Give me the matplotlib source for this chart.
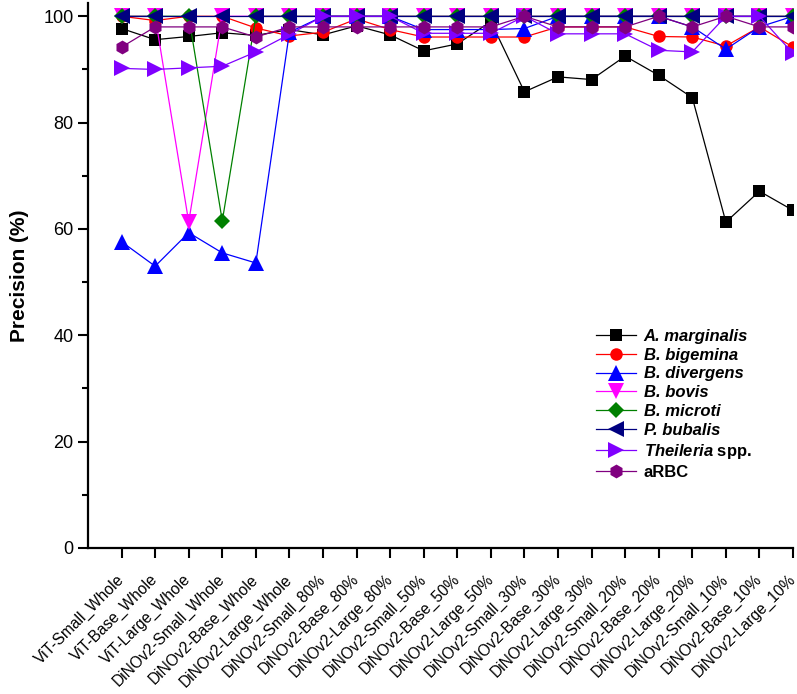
#!/usr/bin/env python3

import numpy as np
import matplotlib
matplotlib.use("Agg")
import matplotlib.pyplot as plt
from matplotlib.ticker import MultipleLocator

plt.rcParams['font.family'] = ['Liberation Sans', 'DejaVu Sans']
plt.rcParams['mathtext.fontset'] = 'custom'
plt.rcParams['mathtext.rm'] = 'Liberation Sans'
plt.rcParams['mathtext.it'] = 'Liberation Sans:italic'
plt.rcParams['mathtext.bf'] = 'Liberation Sans:bold'
plt.rcParams['mathtext.bfit'] = 'Liberation Sans:italic:bold'

models = ["ViT-Small_Whole", "ViT-Base_Whole", "ViT-Large_Whole",
          "DiNOv2-Small_Whole", "DiNOv2-Base_Whole", "DiNOv2-Large_Whole",
          "DiNOv2-Small_80%", "DiNOv2-Base_80%", "DiNOv2-Large_80%",
          "DiNOv2-Small_50%", "DiNOv2-Base_50%", "DiNOv2-Large_50%",
          "DiNOv2-Small_30%", "DiNOv2-Base_30%", "DiNOv2-Large_30%",
          "DiNOv2-Small_20%", "DiNOv2-Base_20%", "DiNOv2-Large_20%",
          "DiNOv2-Small_10%", "DiNOv2-Base_10%", "DiNOv2-Large_10%"]

a_marginalis = [97.7, 95.6, 96.2, 96.9, 96.4, 97.5, 96.5, 98.2, 96.5, 93.5, 94.8,
                99.0, 85.8, 88.6, 88.1, 92.5, 88.9, 84.7, 61.3, 67.1, 63.5]
b_bigemina = [100, 99.2, 100, 100, 97.8, 96.3, 97.0, 99.5, 97.5, 96.1, 96.1,
              96.1, 96.1, 98.0, 98.0, 98.0, 96.2, 96.1, 94.4, 98.0, 94.2]
b_divergens = [57.6, 53.0, 59.3, 55.5, 53.6, 97.0, 100, 100, 100, 97.5, 97.5,
               97.5, 97.7, 100, 100, 100, 100, 98.0, 93.8, 98.0, 100]
b_bovis = [100, 100, 61.3, 100, 100, 100, 100, 100, 100, 100, 100,
           100, 100, 100, 100, 100, 100, 100, 100, 100, 100]
b_microti = [100, 100, 100, 61.5, 100, 100, 100, 100, 100, 100, 100,
             100, 100, 100, 100, 100, 100, 100, 100, 100, 100]
p_bubalis = [100, 100, 100, 100, 100, 100, 100, 100, 100, 100, 100,
             100, 100, 100, 100, 100, 100, 100, 100, 100, 100]
theileria = [90.2, 90.0, 90.3, 90.6, 93.3, 96.6, 100, 100, 100, 96.8, 96.8,
             96.8, 100, 96.7, 96.7, 96.7, 93.6, 93.3, 100, 100, 93.0]
arbc = [94.2, 98.0, 98.0, 98.0, 96.1, 98.0, 98.0, 98.0, 98.0, 98.0, 98.0,
        98.0, 100, 98.0, 98.0, 98.0, 100, 98.0, 100, 98.0, 98.0]

series = [
    (a_marginalis, "A. marginalis", "black", "s", 8.5),
    (b_bigemina, "B. bigemina", "#ff0000", "o", 9),
    (b_divergens, "B. divergens", "#0000ff", "^", 11),
    (b_bovis, "B. bovis", "#ff00ff", "v", 11),
    (b_microti, "B. microti", "#008000", "D", 8),
    (p_bubalis, "P. bubalis", "#000080", "<", 11),
    (theileria, r"$\mathbfit{Theileria}$ spp.", "#8000ff", ">", 11),
    (arbc, "aRBC", "#800080", "h", 10),
]

fig = plt.figure(figsize=(7.97, 6.94), dpi=100)
ax = fig.add_axes([0.1104, 0.2104, 0.8846, 0.7853])

x = np.arange(len(models))
for vals, label, color, marker, ms in series:
    ax.plot(x, vals, color=color, lw=0.9, marker=marker, ms=ms,
            markeredgewidth=0, label=label)

ax.set_xlim(-1, 20)
ax.set_ylim(0, 102.5)
ax.spines['top'].set_visible(False)
ax.spines['right'].set_visible(False)
for s in ['left', 'bottom']:
    ax.spines[s].set_linewidth(1.6)

ax.set_xticks(x)
ax.set_xticklabels(models, rotation=45, ha='right', va='center',
                   rotation_mode='anchor', fontsize=11.2)
ax.yaxis.set_major_locator(MultipleLocator(20))
ax.yaxis.set_minor_locator(MultipleLocator(10))
ax.tick_params(axis='both', which='major', direction='out', length=7, width=1.5,
               labelsize=13)
ax.tick_params(axis='x', which='major', pad=14, labelsize=11.2)
ax.tick_params(axis='y', which='minor', direction='out', length=4, width=1.5)
ax.set_ylabel("Precision (%)", fontsize=15, fontweight='bold', labelpad=10)

leg = ax.legend(loc='center left', bbox_to_anchor=(0.709, 0.264), frameon=False,
                fontsize=12, handlelength=2.4, handletextpad=0.45,
                labelspacing=0.23, borderpad=0)
for i, t in enumerate(leg.get_texts()):
    t.set_fontweight('bold')
    if i < 6:
        t.set_fontstyle('italic')

fig.savefig("out.png", dpi=100)
